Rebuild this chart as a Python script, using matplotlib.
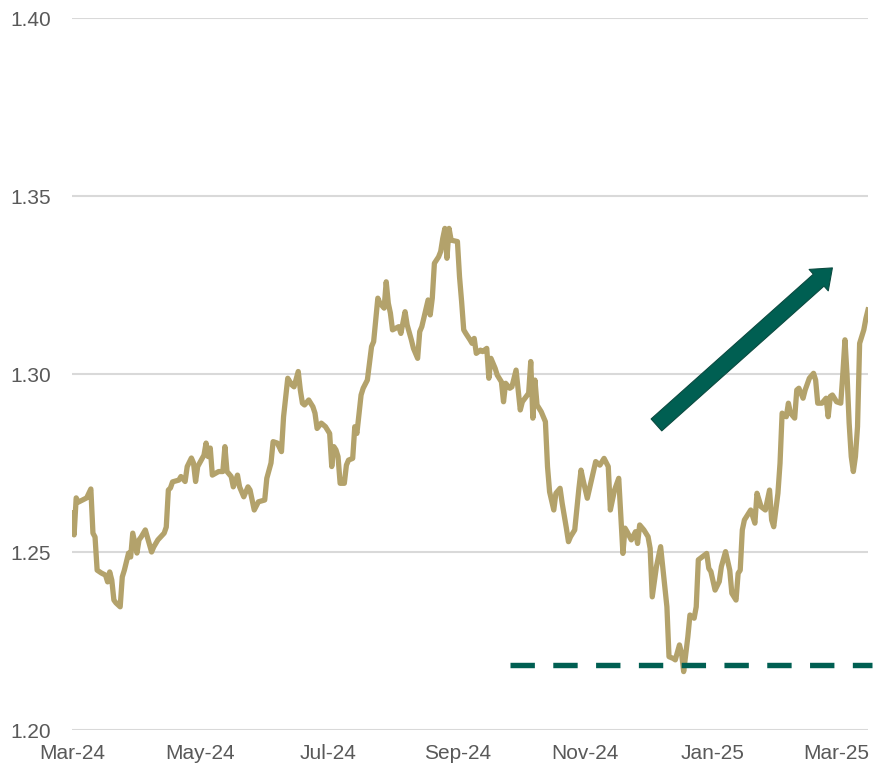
import matplotlib
matplotlib.use("Agg")
import matplotlib.pyplot as plt
import matplotlib.dates as mdates
from matplotlib.patches import FancyArrowPatch
import pandas as pd

# Дані
dates = [
    "2024-03-01", "2024-03-02", "2024-03-03", "2024-03-04", "2024-03-06", "2024-03-08", "2024-03-10", "2024-03-11", "2024-03-12", "2024-03-13",
    "2024-03-15", "2024-03-17", "2024-03-18", "2024-03-19", "2024-03-20", "2024-03-21", "2024-03-22", "2024-03-24", "2024-03-25", "2024-03-26",
    "2024-03-28", "2024-03-29", "2024-03-30", "2024-04-01", "2024-04-02", "2024-04-03", "2024-04-05", "2024-04-08", "2024-04-09", "2024-04-11",
    "2024-04-14", "2024-04-15", "2024-04-16", "2024-04-17", "2024-04-18", "2024-04-21", "2024-04-22", "2024-04-24", "2024-04-25", "2024-04-27",
    "2024-04-28", "2024-04-29", "2024-04-30", "2024-05-03", "2024-05-04", "2024-05-05", "2024-05-06", "2024-05-07", "2024-05-10", "2024-05-12",
    "2024-05-13", "2024-05-14", "2024-05-16", "2024-05-17", "2024-05-19", "2024-05-20", "2024-05-22", "2024-05-24", "2024-05-25", "2024-05-27",
    "2024-05-29", "2024-06-01", "2024-06-02", "2024-06-04", "2024-06-05", "2024-06-07", "2024-06-09", "2024-06-10", "2024-06-12", "2024-06-14",
    "2024-06-15", "2024-06-17", "2024-06-18", "2024-06-19", "2024-06-20", "2024-06-22", "2024-06-24", "2024-06-25", "2024-06-26", "2024-06-28",
    "2024-06-30", "2024-07-02", "2024-07-03", "2024-07-04", "2024-07-05", "2024-07-06", "2024-07-07", "2024-07-09", "2024-07-10", "2024-07-11",
    "2024-07-13", "2024-07-14", "2024-07-15", "2024-07-17", "2024-07-18", "2024-07-20", "2024-07-22", "2024-07-23", "2024-07-25", "2024-07-26",
    "2024-07-28", "2024-07-29", "2024-07-30", "2024-07-31", "2024-08-01", "2024-08-04", "2024-08-05", "2024-08-07", "2024-08-08", "2024-08-10",
    "2024-08-11", "2024-08-13", "2024-08-14", "2024-08-15", "2024-08-18", "2024-08-19", "2024-08-20", "2024-08-21", "2024-08-23", "2024-08-24",
    "2024-08-25", "2024-08-26", "2024-08-27", "2024-08-28", "2024-08-29", "2024-09-01", "2024-09-02", "2024-09-03", "2024-09-04", "2024-09-05",
    "2024-09-07", "2024-09-08", "2024-09-09", "2024-09-10", "2024-09-12", "2024-09-13", "2024-09-15", "2024-09-16", "2024-09-17", "2024-09-19",
    "2024-09-20", "2024-09-22", "2024-09-23", "2024-09-24", "2024-09-26", "2024-09-27", "2024-09-29", "2024-10-01", "2024-10-02", "2024-10-05",
    "2024-10-06", "2024-10-07", "2024-10-08", "2024-10-09", "2024-10-11", "2024-10-13", "2024-10-14", "2024-10-15", "2024-10-17", "2024-10-18",
    "2024-10-20", "2024-10-21", "2024-10-23", "2024-10-24", "2024-10-25", "2024-10-27", "2024-10-29", "2024-10-30", "2024-10-31", "2024-11-02",
    "2024-11-04", "2024-11-06", "2024-11-08", "2024-11-10", "2024-11-12", "2024-11-13", "2024-11-15", "2024-11-17", "2024-11-18", "2024-11-19",
    "2024-11-20", "2024-11-21", "2024-11-23", "2024-11-25", "2024-11-26", "2024-11-27", "2024-11-29", "2024-12-01", "2024-12-02", "2024-12-03",
    "2024-12-05", "2024-12-07", "2024-12-08", "2024-12-10", "2024-12-11", "2024-12-13", "2024-12-14", "2024-12-16", "2024-12-17", "2024-12-18",
    "2024-12-20", "2024-12-21", "2024-12-23", "2024-12-24", "2024-12-25", "2024-12-27", "2024-12-29", "2024-12-30", "2024-12-31", "2025-01-02",
    "2025-01-04", "2025-01-05", "2025-01-07", "2025-01-09", "2025-01-10", "2025-01-12", "2025-01-13", "2025-01-14", "2025-01-15", "2025-01-16",
    "2025-01-18", "2025-01-19", "2025-01-21", "2025-01-22", "2025-01-24", "2025-01-26", "2025-01-28", "2025-01-29", "2025-01-30", "2025-02-01",
    "2025-02-02", "2025-02-03", "2025-02-05", "2025-02-06", "2025-02-07", "2025-02-09", "2025-02-10", "2025-02-11", "2025-02-13", "2025-02-14",
    "2025-02-16", "2025-02-18", "2025-02-19", "2025-02-20", "2025-02-22", "2025-02-24", "2025-02-25", "2025-02-26", "2025-02-27", "2025-03-01",
    "2025-03-03", "2025-03-04", "2025-03-05", "2025-03-06", "2025-03-07", "2025-03-08", "2025-03-09", "2025-03-10", "2025-03-11", "2025-03-12",
    "2025-03-14", "2025-03-15", "2025-03-16",
]

rate_values = [
    1.2610, 1.2548, 1.2652, 1.2640, 1.2646, 1.2652, 1.2677, 1.2553, 1.2542, 1.2449,
    1.2441, 1.2435, 1.2416, 1.2444, 1.2421, 1.2365, 1.2357, 1.2346, 1.2430, 1.2449,
    1.2497, 1.2486, 1.2553, 1.2497, 1.2534, 1.2542, 1.2562, 1.2500, 1.2514, 1.2534,
    1.2553, 1.2570, 1.2674, 1.2680, 1.2697, 1.2702, 1.2712, 1.2698, 1.2740, 1.2764,
    1.2750, 1.2698, 1.2740, 1.2772, 1.2806, 1.2768, 1.2792, 1.2716, 1.2726, 1.2726,
    1.2796, 1.2726, 1.2712, 1.2683, 1.2716, 1.2683, 1.2655, 1.2683, 1.2674, 1.2618,
    1.2641, 1.2646, 1.2707, 1.2750, 1.2810, 1.2806, 1.2782, 1.2880, 1.2988, 1.2969,
    1.2964, 1.3007, 1.2955, 1.2918, 1.2913, 1.2927, 1.2908, 1.2890, 1.2847, 1.2862,
    1.2852, 1.2833, 1.2740, 1.2796, 1.2787, 1.2768, 1.2693, 1.2693, 1.2744, 1.2758,
    1.2763, 1.2852, 1.2833, 1.2941, 1.2960, 1.2983, 1.3077, 1.3091, 1.3213, 1.3199,
    1.3185, 1.3259, 1.3199, 1.3171, 1.3124, 1.3133, 1.3114, 1.3175, 1.3138, 1.3096,
    1.3072, 1.3044, 1.3119, 1.3133, 1.3208, 1.3166, 1.3213, 1.3311, 1.3329, 1.3344,
    1.3381, 1.3409, 1.3325, 1.3409, 1.3376, 1.3372, 1.3273, 1.3203, 1.3124, 1.3114,
    1.3096, 1.3086, 1.3100, 1.3058, 1.3067, 1.3063, 1.3072, 1.2988, 1.3044, 1.3016,
    1.2997, 1.2978, 1.2922, 1.2974, 1.2960, 1.2964, 1.3011, 1.2899, 1.2922, 1.2946,
    1.3035, 1.2876, 1.2983, 1.2913, 1.2894, 1.2866, 1.2740, 1.2669, 1.2618, 1.2665,
    1.2679, 1.2637, 1.2567, 1.2529, 1.2543, 1.2562, 1.2679, 1.2730, 1.2702, 1.2651,
    1.2702, 1.2754, 1.2744, 1.2763, 1.2740, 1.2618, 1.2674, 1.2707, 1.2599, 1.2496,
    1.2567, 1.2557, 1.2534, 1.2557, 1.2524, 1.2576, 1.2562, 1.2543, 1.2510, 1.2374,
    1.2459, 1.2515, 1.2459, 1.2346, 1.2206, 1.2201, 1.2197, 1.2239, 1.2215, 1.2164,
    1.2262, 1.2323, 1.2314, 1.2346, 1.2478, 1.2487, 1.2496, 1.2454, 1.2445, 1.2393,
    1.2417, 1.2459, 1.2501, 1.2449, 1.2384, 1.2365, 1.2440, 1.2449, 1.2562, 1.2590,
    1.2609, 1.2618, 1.2581, 1.2665, 1.2627, 1.2618, 1.2674, 1.2590, 1.2571, 1.2665,
    1.2749, 1.2890, 1.2880, 1.2918, 1.2890, 1.2876, 1.2955, 1.2960, 1.2932, 1.2955,
    1.2988, 1.3002, 1.2983, 1.2918, 1.2918, 1.2932, 1.2880, 1.2937, 1.2941, 1.2922,
    1.2918, 1.3002, 1.3096, 1.2997, 1.2862, 1.2768, 1.2726, 1.2768, 1.2852, 1.3086,
    1.3124, 1.3156, 1.3180,
]

# Рівень підтримки (пунктир) та стрілка тренду
support_level = 1.2183
support_dates = ["2024-09-26", "2025-03-18"]
arrow_dates = ["2024-12-05", "2025-02-27"]
arrow_values = [1.2857, 1.3298]

y_ticks = [1.20, 1.25, 1.30, 1.35, 1.40]

GOLD = "#B3A26B"
TEAL = "#005F52"
GREY_TEXT = "#595959"
GRID = "#D9D9D9"

plt.rcParams["font.family"] = ["Liberation Sans", "DejaVu Sans"]

fig = plt.figure(figsize=(8.73, 7.70), dpi=100)
ax = fig.add_axes([72 / 873, 1 - 730 / 770, (868 - 72) / 873, (730 - 18) / 770])

x = pd.to_datetime(dates)
ax.plot(x, rate_values, color=GOLD, lw=3.8, solid_joinstyle="round", zorder=3)

# Пунктирна лінія підтримки
ax.plot(pd.to_datetime(support_dates), [support_level, support_level], color=TEAL,
        lw=3.9, linestyle=(0, (4.5, 3.4)), dash_capstyle="butt", clip_on=False, zorder=4)

# Стрілка вгору
ad = mdates.date2num(pd.to_datetime(arrow_dates))
arrow = FancyArrowPatch((ad[0], arrow_values[0]), (ad[1], arrow_values[1]),
                        arrowstyle="simple,head_width=1.8,head_length=1.15,tail_width=1.0",
                        mutation_scale=11.5, shrinkA=0, shrinkB=0,
                        facecolor=TEAL, edgecolor="#0A4A40", lw=0.8, zorder=5)
ax.add_patch(arrow)

ax.set_ylim(1.20, 1.40)
ax.set_xlim(pd.Timestamp("2024-03-01"), pd.Timestamp("2025-03-16"))
ax.set_yticks(y_ticks)
ax.yaxis.set_major_formatter(plt.FuncFormatter(lambda v, p: f"{v:.2f}"))
ax.xaxis.set_major_locator(mdates.MonthLocator(bymonth=[1, 3, 5, 7, 9, 11]))
ax.xaxis.set_major_formatter(mdates.DateFormatter("%b-%y"))

ax.grid(axis="y", color=GRID, lw=1.5)
ax.set_axisbelow(True)
for s in ax.spines.values():
    s.set_visible(False)
ax.tick_params(axis="both", length=0, labelsize=15, colors=GREY_TEXT)
ax.tick_params(axis="y", pad=15)
ax.tick_params(axis="x", pad=10)

fig.savefig("out.png", dpi=100)
